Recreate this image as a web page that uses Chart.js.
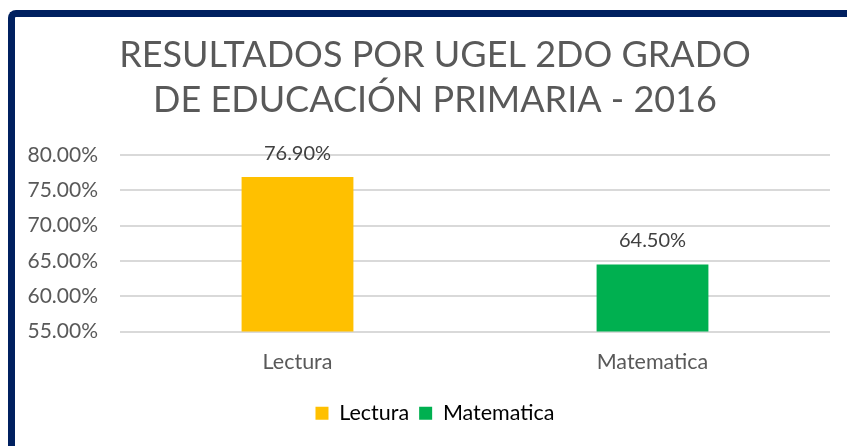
<!DOCTYPE html>
<html>
<head>
<meta charset="utf-8">
<script src="https://cdn.jsdelivr.net/npm/chart.js@4"></script>
<style>
  html, body { margin: 0; padding: 0; background: #fff; overflow: hidden; }
  body { width: 847px; height: 446px; position: relative; }
  #frame {
    position: absolute; left: 8px; top: 10px; width: 900px; height: 500px;
    border-left: 7px solid #002060; border-top: 7px solid #002060;
    border-top-left-radius: 8px;
  }
  #chart { position: absolute; left: 16px; top: 18px; }
</style>
</head>
<body>
<div id="frame"></div>
<canvas id="chart" width="838" height="428"></canvas>
<script>
const categories = ["Lectura", "Matematica"];
const values = [76.9, 64.5];
const barColors = ["#FFC000", "#00B050"];
const titleLines = ["RESULTADOS POR UGEL 2DO GRADO", "DE EDUCACIÓN PRIMARIA - 2016"];

const fontFamily = "Lato, 'Open Sans', sans-serif";

// draw the value above each bar
const valueLabels = {
  id: "valueLabels",
  afterDatasetsDraw(chart) {
    const ctx = chart.ctx;
    const meta = chart.getDatasetMeta(0);
    ctx.save();
    ctx.font = "20px " + fontFamily;
    ctx.fillStyle = "#404040";
    ctx.textAlign = "center";
    ctx.textBaseline = "alphabetic";
    meta.data.forEach((bar, i) => {
      ctx.fillText(values[i].toFixed(2) + "%", bar.x, bar.y - 17);
    });
    ctx.restore();
  }
};

new Chart(document.getElementById("chart"), {
  type: "bar",
  plugins: [valueLabels],
  data: {
    labels: categories,
    datasets: [{
      data: values,
      backgroundColor: barColors,
      barPercentage: 0.315,
      categoryPercentage: 1
    }]
  },
  options: {
    responsive: false,
    animation: false,
    layout: { padding: { left: 0, right: 0, top: 0, bottom: 12 } },
    scales: {
      x: {
        grid: { display: false, drawTicks: false },
        border: { display: false },
        ticks: { color: "#595959", font: { family: fontFamily, size: 21.5 }, padding: 18 },
        afterFit: s => { s.height = 61; }
      },
      y: {
        min: 55,
        max: 80,
        grid: { color: "#d9d9d9", lineWidth: 2, drawTicks: false },
        border: { display: false },
        ticks: {
          stepSize: 5,
          color: "#595959",
          padding: 22,
          font: { family: fontFamily, size: 21 },
          callback: v => v.toFixed(2) + "%"
        },
        afterFit: s => { s.width = 104; }
      },
      // empty spacer on the right so the title stays centred on the whole frame
      spacer: {
        type: "linear",
        position: "right",
        grid: { display: false, drawTicks: false },
        border: { display: false },
        ticks: { display: false },
        afterFit: s => { s.width = 24; }
      }
    },
    plugins: {
      tooltip: { enabled: false },
      title: {
        display: true,
        text: titleLines,
        color: "#595959",
        font: { family: fontFamily, size: 36, weight: "normal", lineHeight: 1.25 },
        padding: { top: 15, bottom: 32 }
      },
      legend: {
        position: "bottom",
        labels: {
          color: "#595959",
          font: { family: fontFamily, size: 21.5 },
          boxWidth: 13,
          boxHeight: 13,
          padding: 10,
          generateLabels: chart => chart.data.labels.map((l, i) => ({
            text: l,
            fillStyle: barColors[i],
            strokeStyle: barColors[i],
            lineWidth: 0,
            index: i
          }))
        }
      }
    }
  }
});
</script>
</body>
</html>
